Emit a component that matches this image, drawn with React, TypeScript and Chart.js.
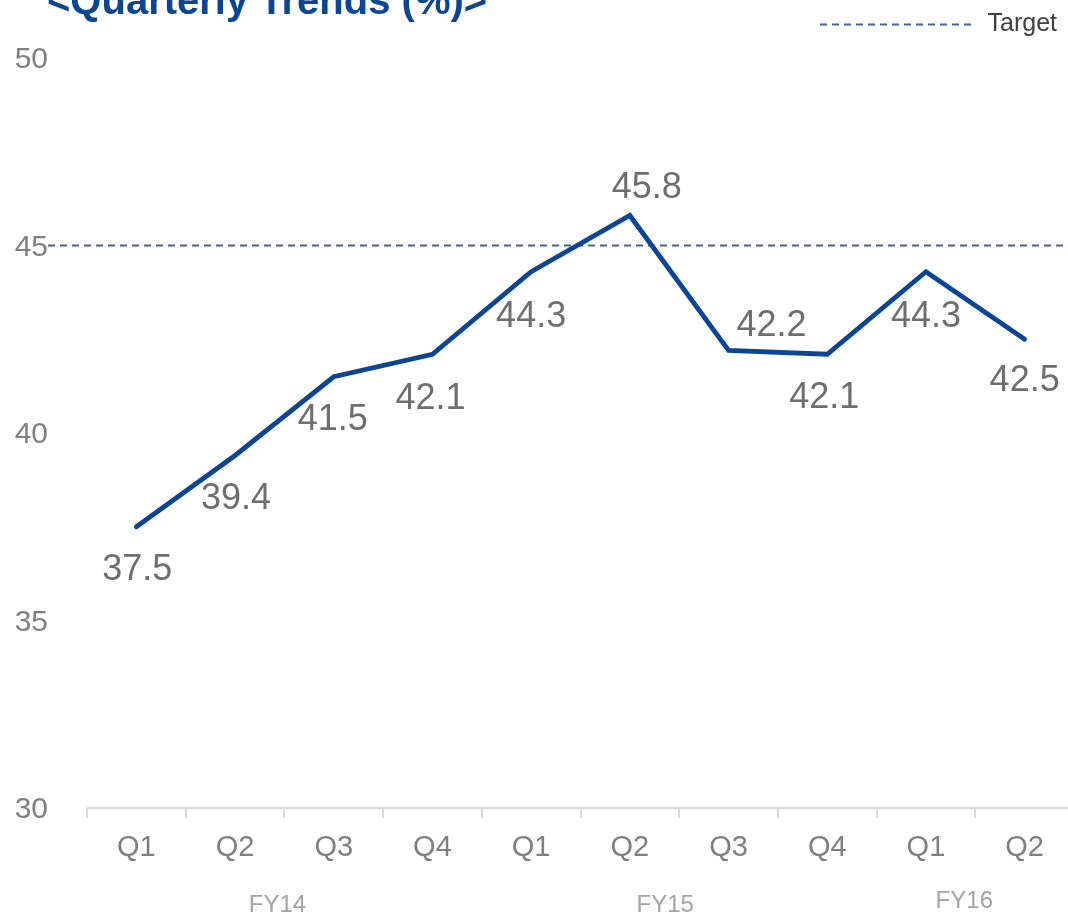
import React, { useEffect, useRef } from 'react';
import { Chart, registerables } from 'chart.js';

Chart.register(...registerables);

// ---- data ----
const QUARTERS = ['Q1', 'Q2', 'Q3', 'Q4', 'Q1', 'Q2', 'Q3', 'Q4', 'Q1', 'Q2'];
const VALUES = [37.5, 39.4, 41.5, 42.1, 44.3, 45.8, 42.2, 42.1, 44.3, 42.5];
const TARGET = 45;
const FISCAL_YEARS = ['FY14', 'FY15', 'FY16'];
const FY_FIRST = [0, 4, 8];
const FY_LAST = [3, 7, 9];
const Y_MIN = 30;
const Y_MAX = 50;
const Y_STEP = 5;
const TITLE = '<Quarterly Trends (%)>';
const SERIES_NAME = 'Quarterly';
const TARGET_NAME = 'Target';

// ---- layout / label placement (style only) ----
const SHIFT = 6; // canvas is moved up a little so the legend sits near the top edge
const CANVAS_W = 1074;
const CANVAS_H = 915 + SHIFT;
const PLOT_TOP = 58 + SHIFT;
const LABEL_DX = [1, 1, -1, -2, 0, 17, 43, -3, 0, 0];
const LABEL_DY = [43, 44, 43, 45, 45, -27, -24, 44, 45, 42];
const FY_DX = [-7, -14, -11];
const FY_DY = [-10, -10, -14];

const FONT = '"Liberation Sans", Arial, Helvetica, sans-serif';
const LINE_COLOR = '#0B4594';
const TARGET_COLOR = '#41649B';
const DASH = [7, 5];

const decorations = {
  id: 'decorations',
  beforeDatasetsDraw(chart: any) {
    const { ctx, scales } = chart;
    const y = scales.y;
    const py = y.getPixelForValue(TARGET);
    const startX = y.right - y.options.ticks.padding;
    ctx.save();
    ctx.strokeStyle = TARGET_COLOR;
    ctx.lineWidth = 2;
    ctx.setLineDash(DASH);
    ctx.beginPath();
    ctx.moveTo(startX, py);
    ctx.lineTo(chart.width, py);
    ctx.stroke();
    ctx.restore();
  },
  afterDatasetsDraw(chart: any) {
    const { ctx } = chart;
    const meta = chart.getDatasetMeta(0);
    ctx.save();
    ctx.font = `36px ${FONT}`;
    ctx.fillStyle = '#6E6E6E';
    ctx.textAlign = 'center';
    ctx.textBaseline = 'middle';
    meta.data.forEach((pt: any, i: number) => {
      ctx.fillText(VALUES[i].toFixed(1), pt.x + LABEL_DX[i], pt.y + LABEL_DY[i]);
    });
    ctx.restore();
  },
  afterDraw(chart: any) {
    const { ctx, scales } = chart;
    const x = scales.x;
    ctx.save();
    // title (partially above the visible area, as in the source)
    ctx.font = `bold 40px ${FONT}`;
    ctx.fillStyle = LINE_COLOR;
    ctx.textAlign = 'left';
    ctx.textBaseline = 'alphabetic';
    ctx.fillText(TITLE, 47, 14 + SHIFT);
    // fiscal year group labels
    ctx.font = `24px ${FONT}`;
    ctx.fillStyle = '#A3A3A3';
    ctx.textAlign = 'center';
    ctx.textBaseline = 'middle';
    FISCAL_YEARS.forEach((fy, i) => {
      const cx = (x.getPixelForValue(FY_FIRST[i]) + x.getPixelForValue(FY_LAST[i])) / 2 + FY_DX[i];
      ctx.fillText(fy, cx, x.bottom + FY_DY[i]);
    });
    ctx.restore();
  },
};

export default function App() {
  const canvasRef = useRef<HTMLCanvasElement | null>(null);

  useEffect(() => {
    if (!canvasRef.current) return;
    const chart = new Chart(canvasRef.current, {
      type: 'line',
      data: {
        labels: QUARTERS,
        datasets: [
          {
            label: SERIES_NAME,
            data: VALUES,
            borderColor: LINE_COLOR,
            backgroundColor: LINE_COLOR,
            borderWidth: 4.8,
            borderCapStyle: 'round',
            borderJoinStyle: 'miter',
            tension: 0,
            pointRadius: 0,
            fill: false,
          },
          {
            label: TARGET_NAME,
            data: [],
            borderColor: TARGET_COLOR,
            backgroundColor: 'rgba(0,0,0,0)',
            borderWidth: 2,
            borderDash: DASH,
            pointRadius: 0,
          },
        ],
      },
      options: {
        responsive: false,
        animation: false,
        devicePixelRatio: 1,
        layout: { padding: { top: 0, left: 0, right: 0, bottom: 0 } },
        plugins: {
          title: { display: false },
          // empty spacer between the legend and the plot
          subtitle: {
            display: true,
            text: ' ',
            font: { size: 1, lineHeight: 1 },
            padding: { top: 5, bottom: 5 },
          },
          tooltip: { enabled: false },
          legend: {
            display: true,
            position: 'top',
            align: 'end',
            weight: 3000,
            labels: {
              generateLabels: (c: any) => {
                const items = (Chart.defaults.plugins.legend.labels as any).generateLabels(c);
                return items
                  .filter((it: any) => it.text === TARGET_NAME)
                  .map((it: any) => ({
                    ...it,
                    lineDash: DASH,
                    lineWidth: 2,
                    strokeStyle: TARGET_COLOR,
                    fillStyle: 'rgba(0,0,0,0)',
                    pointStyle: 'line',
                  }));
              },
              usePointStyle: true,
              pointStyle: 'line',
              pointStyleWidth: 155,
              padding: 17,
              color: '#404040',
              font: { family: FONT, size: 25 },
            },
          },
        },
        scales: {
          x: {
            type: 'category',
            offset: true,
            afterFit: (scale: any) => {
              scale.height = 107;
            },
            grid: {
              display: true,
              drawOnChartArea: false,
              drawTicks: true,
              tickLength: 10,
              offset: true,
              color: '#DADADA',
              lineWidth: 2,
            },
            border: { display: true, color: '#DADADA', width: 2 },
            ticks: {
              color: '#7F7F7F',
              padding: 13,
              font: { family: FONT, size: 29 },
              maxRotation: 0,
              autoSkip: false,
            },
          },
          y: {
            min: Y_MIN,
            max: Y_MAX,
            afterFit: (scale: any) => {
              scale.width = 87;
              scale.paddingTop = PLOT_TOP;
              scale.paddingBottom = 0;
            },
            grid: { display: false, drawTicks: false },
            border: { display: false },
            ticks: {
              stepSize: Y_STEP,
              color: '#808080',
              padding: 39,
              labelOffset: 2,
              font: { family: FONT, size: 30 },
            },
          },
        },
      },
      plugins: [decorations],
    });
    return () => chart.destroy();
  }, []);

  return (
    <div style={{ position: 'absolute', left: 0, top: 0, width: 1068, height: 915, overflow: 'hidden', background: '#ffffff' }}>
      <canvas
        ref={canvasRef}
        width={CANVAS_W}
        height={CANVAS_H}
        style={{ display: 'block', position: 'absolute', left: 0, top: -SHIFT }}
      />
    </div>
  );
}
